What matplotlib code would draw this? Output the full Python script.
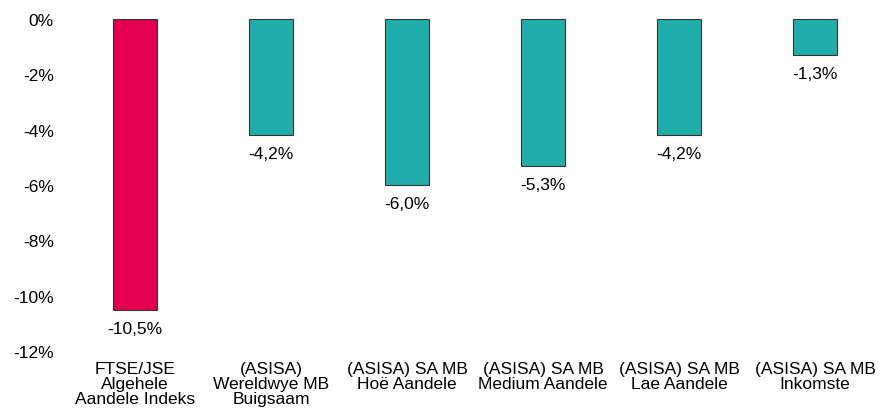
import numpy as np
import matplotlib.pyplot as plt

plt.rcParams['font.family'] = ['Liberation Sans', 'DejaVu Sans']

# categories and returns (%)
categories = ['FTSE/JSE\nAlgehele\nAandele Indeks',
              '(ASISA)\nWereldwye MB\nBuigsaam',
              '(ASISA) SA MB\nHoë Aandele',
              '(ASISA) SA MB\nMedium Aandele',
              '(ASISA) SA MB\nLae Aandele',
              '(ASISA) SA MB\nInkomste']
returns = [-10.5, -4.2, -6.0, -5.3, -4.2, -1.3]
bar_colors = ['#E3004F', '#21AEAB', '#21AEAB', '#21AEAB', '#21AEAB', '#21AEAB']
y_ticks = [0, -2, -4, -6, -8, -10, -12]

fig = plt.figure(figsize=(8.85, 4.1), dpi=100)
ax = fig.add_axes([67/885, 58/410, 816/885, 332/410])

x = np.arange(len(categories))
ax.bar(x, returns, width=0.32, color=bar_colors, edgecolor='#333333', linewidth=0.8)

for xi, v in zip(x, returns):
    ax.annotate(('%.1f%%' % v).replace('.', ','), (xi, v), xytext=(0, -8),
                textcoords='offset points', ha='center', va='top', fontsize=12.5)

ax.set_xlim(-0.5, len(categories) - 0.5)
ax.set_ylim(-12, 0)
ax.set_yticks(y_ticks)
ax.set_yticklabels(['%d%%' % t for t in y_ticks], fontsize=12.5)
ax.set_xticks(x)
ax.set_xticklabels(categories, fontsize=12.5, linespacing=1.02)
ax.tick_params(length=0)
ax.tick_params(axis='y', pad=9.5)
ax.tick_params(axis='x', pad=7)
for s in ax.spines.values():
    s.set_visible(False)

fig.savefig('out.png', dpi=100)
